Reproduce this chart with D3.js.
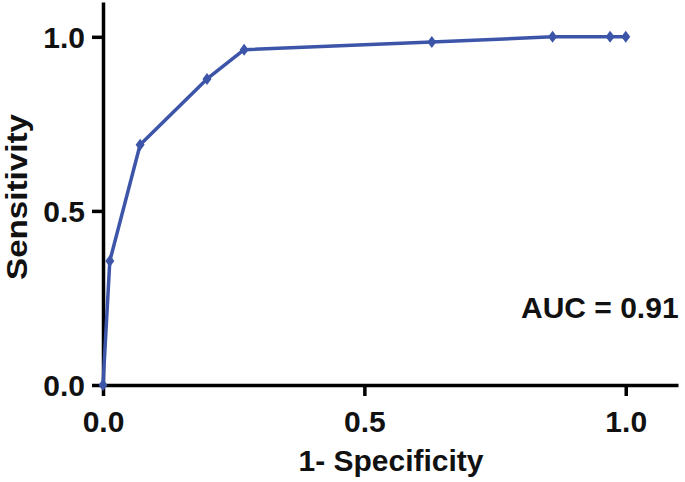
<!DOCTYPE html>
<html>
<head>
<meta charset="utf-8">
<script src="https://cdn.jsdelivr.net/npm/d3@7"></script>
<style>
  html, body { margin: 0; padding: 0; background: #fff; }
  svg { display: block; }
  text { font-family: "Liberation Sans", Arial, Helvetica, sans-serif; font-weight: bold; fill: #111; }
</style>
</head>
<body>
<div id="chart"></div>
<script>
// ROC curve data
const fpr = [0, 0.013, 0.071, 0.199, 0.27, 0.629, 0.86, 0.97, 1.0];
const tpr = [0, 0.356, 0.69, 0.879, 0.963, 0.985, 1.0, 1.0, 1.0];
const xTicks = [0, 0.5, 1.0];
const yTicks = [0, 0.5, 1.0];
const xLabel = "1- Specificity";
const yLabel = "Sensitivity";
const aucLabel = "AUC = 0.91";

const W = 685, H = 482;
const svg = d3.select("#chart").append("svg").attr("width", W).attr("height", H);

const x = d3.scaleLinear().domain([0, 1.1]).range([103, 678]);
const y = d3.scaleLinear().domain([0, 1.1]).range([385, 2]);

const fmt = d3.format(".1f");
const lineColor = "#3d55a8";
const FS = 30;

// X axis
const gx = svg.append("g").attr("transform", `translate(0,${y(0)})`)
  .call(d3.axisBottom(x).tickValues(xTicks).tickFormat(fmt).tickSizeInner(11).tickSizeOuter(0));
gx.select(".domain").attr("stroke", "#000").attr("stroke-width", 3.5);
gx.selectAll(".tick line").attr("stroke", "#000").attr("stroke-width", 3.5);
gx.selectAll(".tick text").attr("font-size", FS).attr("y", 25).attr("dy", "0.72em")
  .style("font-family", "'Liberation Sans', Arial, sans-serif").style("font-weight", "bold").attr("fill", "#111");

// Y axis
const gy = svg.append("g").attr("transform", `translate(${x(0)},0)`)
  .call(d3.axisLeft(y).tickValues(yTicks).tickFormat(fmt).tickSizeInner(11).tickSizeOuter(0));
gy.select(".domain").attr("stroke", "#000").attr("stroke-width", 3.5);
gy.selectAll(".tick line").attr("stroke", "#000").attr("stroke-width", 3.5);
gy.selectAll(".tick text").attr("font-size", FS).attr("x", -18).attr("dy", "0.36em")
  .style("font-family", "'Liberation Sans', Arial, sans-serif").style("font-weight", "bold").attr("fill", "#111");

// Axis titles
svg.append("text").attr("x", 391).attr("y", 471).attr("text-anchor", "middle")
  .attr("font-size", FS).text(xLabel);
svg.append("text").attr("transform", `translate(27,197) rotate(-90)`).attr("text-anchor", "middle")
  .attr("font-size", FS).attr("textLength", 166).attr("lengthAdjust", "spacingAndGlyphs").text(yLabel);

// ROC line
const pts = fpr.map((v, i) => [v, tpr[i]]);
svg.append("path").datum(pts)
  .attr("fill", "none").attr("stroke", lineColor).attr("stroke-width", 3.5)
  .attr("stroke-linejoin", "round")
  .attr("d", d3.line().x(d => x(d[0])).y(d => y(d[1])));

// Diamond markers
svg.selectAll(".pt").data(pts).enter().append("path")
  .attr("class", "pt")
  .attr("transform", d => `translate(${x(d[0])},${y(d[1])})`)
  .attr("d", "M0,-6 L4.5,0 L0,6 L-4.5,0 Z")
  .attr("fill", lineColor);

// AUC annotation
svg.append("text").attr("x", 521).attr("y", 318).attr("font-size", FS).text(aucLabel);
</script>
</body>
</html>
